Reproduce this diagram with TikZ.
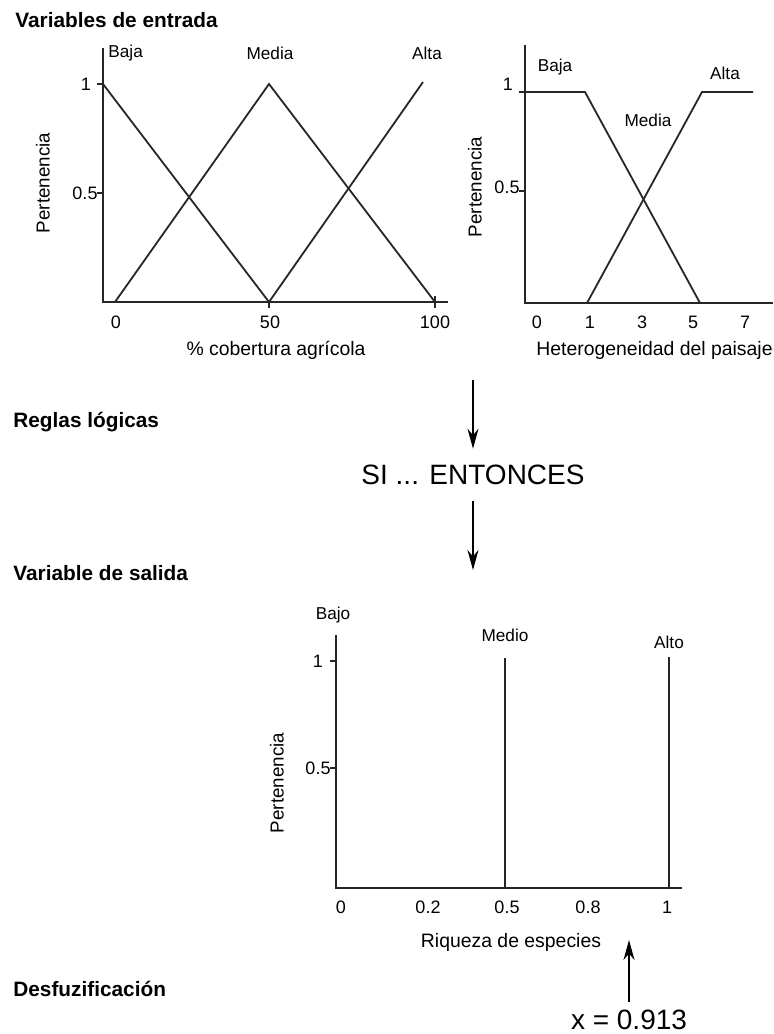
\documentclass[tikz,border=0pt]{standalone}
\usepackage{fontspec}
\setmainfont{Liberation Sans}
\usetikzlibrary{arrows.meta}

\tikzset{
  curve/.style={line width=0.9pt, draw=black!85},
  axis/.style={line width=1pt, draw=black!85},
  tick/.style={line width=0.8pt, draw=black!85},
  title/.style={font=\bfseries\fontsize{10.4}{12}\selectfont, anchor=west, inner sep=0pt},
  setlab/.style={font=\fontsize{8.6}{10}\selectfont, inner sep=0pt},
  numlab/.style={font=\fontsize{9}{10}\selectfont, inner sep=0pt},
  axlab/.style={font=\fontsize{9.7}{11}\selectfont, inner sep=0pt},
  ylab/.style={font=\fontsize{9.4}{11}\selectfont, rotate=90, inner sep=0pt},
  big/.style={font=\fontsize{14}{16}\selectfont},
  flow/.style={line width=0.9pt, -{Stealth[length=10pt,width=5.5pt]}},
}

\begin{document}
\begin{tikzpicture}[x=0.5pt,y=-0.5pt]
    \useasboundingbox (0,0) rectangle (773,1034);

    % section titles
    \node[title] (tin) at (15,20) {Variables de entrada};
    \node[title] (trl) at (13,422) {Reglas lógicas};
    \node[title] (tvs) at (13,573) {Variable de salida};
    \node[title] (tdf) at (13,989) {Desfuzificación};

    % first input: agricultural cover
    \draw[axis] (103,48) -- (103,302) -- (448,302);
    \draw[tick] (97,84) -- (103,84);
    \draw[tick] (97,193) -- (103,193);
    \draw[tick] (269,302) -- (269,308);
    \draw[tick] (435,296) -- (435,308);
    \node[numlab] (ca1) at (86,84) {1};
    \node[numlab] (ca05) at (85,193) {0.5};
    \node[numlab] (cx0) at (116,322) {0};
    \node[numlab] (cx50) at (270,322) {50};
    \node[numlab] (cx100) at (435,322) {100};
    \node[ylab] (cper) at (43,183) {Pertenencia};
    \node[axlab] (cname) at (276,350) {\% cobertura agrícola};
    \draw[curve] (103,84) -- (269,302);            % Baja
    \draw[curve] (115,302) -- (269,84) -- (435,302); % Media
    \draw[curve] (269,302) -- (423,82);            % Alta
    \node[setlab,anchor=west] (cbaja) at (108,53) {Baja};
    \node[setlab] (cmedia) at (270,53) {Media};
    \node[setlab] (calta) at (427,53) {Alta};

    % second input: landscape heterogeneity
    \draw[axis] (525,45) -- (525,303) -- (773,303);
    \draw[tick] (519,92) -- (525,92);
    \draw[tick] (519,191) -- (525,191);
    \node[numlab] (hy1) at (508,84) {1};
    \node[numlab] (hy05) at (507,187) {0.5};
    \foreach \v/\px in {0/537,1/590,3/642,5/693,7/745}{%
      \node[numlab] (hx\v) at (\px,322) {\v};
    }
    \node[ylab] (hper) at (475,187) {Pertenencia};
    \node[axlab,anchor=west] (hname) at (536,350) {Heterogeneidad del paisaje};
    \draw[curve] (525,92) -- (585,92) -- (700,303);  % Baja
    \draw[curve] (587,303) -- (702,92) -- (753,92);  % Alta
    \node[setlab] (hbaja) at (555,67) {Baja};
    \node[setlab] (hmedia) at (648,120) {Media};
    \node[setlab] (halta) at (725,73) {Alta};

    % rules
    \coordinate (rin) at (473,380);
    \node[big,inner sep=8pt] (si) at (473,475) {SI ... ENTONCES};
    \coordinate (rout) at (473,570);
    \draw[flow] (rin) -- (si);
    \draw[flow] (si) -- (rout);

    % output: species richness
    \draw[axis] (336,635) -- (336,888) -- (682,888);
    \draw[tick] (330,661) -- (336,661);
    \draw[tick] (330,768) -- (336,768);
    \draw[curve] (505,658) -- (505,888);  % Medio
    \draw[curve] (669,657) -- (669,888);  % Alto
    \node[numlab] (ry1) at (318,661) {1};
    \node[numlab] (ry05) at (318,768) {0.5};
    \foreach \v/\px in {0/341,0.2/428,0.5/507,0.8/588,1/667}{%
      \node[numlab] (rx\px) at (\px,907) {\v};
    }
    \node[ylab] (rper) at (277,783) {Pertenencia};
    \node[axlab] (rname) at (511,942) {Riqueza de especies};
    \node[setlab] (rbajo) at (333,615) {Bajo};
    \node[setlab] (rmedio) at (505,635) {Medio};
    \node[setlab] (ralto) at (669,642) {Alto};

    % defuzzified value
    \node[big,inner sep=4pt] (xval) at (629,1020) {x = 0.913};
    \coordinate (xtip) at (629,940);
    \draw[flow] (xval) -- (xtip);

\end{tikzpicture}
\end{document}
